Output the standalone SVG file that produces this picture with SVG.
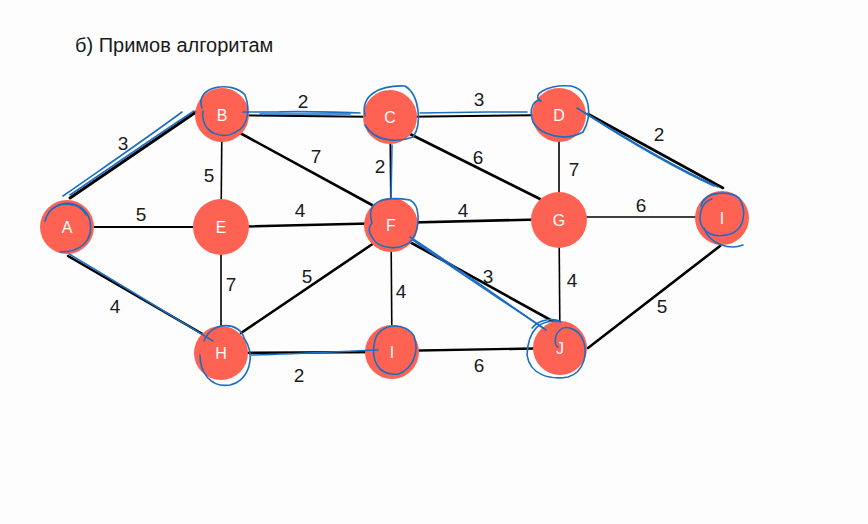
<svg xmlns="http://www.w3.org/2000/svg" width="868" height="524" viewBox="0 0 868 524">
  <style>
    .bg { fill: #fdfdfe; }
    .title { font-family: "Liberation Sans", Arial, sans-serif; font-size: 20px; fill: #1a1a1a; }
    .w { font-family: "Liberation Sans", Arial, sans-serif; font-size: 19px; fill: #1a1a1a; text-anchor: middle; }
    .edge { stroke: #000; stroke-width: 2.6; stroke-linecap: round; fill: none; }
    .thin { stroke: #000; stroke-width: 1.6; fill: none; }
    .node circle { fill: #fd6253; }
    .node text { font-family: "Liberation Sans", Arial, sans-serif; font-size: 16px; fill: #ffffff; text-anchor: middle; }
    .ink { stroke: #1b6ec2; stroke-width: 1.6; fill: none; stroke-linecap: round; stroke-linejoin: round; }
  </style>
  <rect class="bg" width="868" height="524"/>
  <text class="title" x="75" y="52">б) Примов алгоритам</text>

  <!-- edges -->
  <g id="edges">
    <line class="edge" x1="70" y1="198" x2="196" y2="112" style="stroke-width:3"/>
    <line class="thin" x1="222" y1="115" x2="390" y2="117" style="stroke-width:2"/>
    <line class="thin" x1="390" y1="117" x2="559" y2="115" style="stroke-width:2"/>
    <line class="edge" x1="588" y1="114" x2="723" y2="188"/>
    <line class="thin" x1="222" y1="115" x2="221" y2="227"/>
    <line class="edge" x1="240" y1="133" x2="372" y2="205"/>
    <line class="thin" x1="390" y1="117" x2="391" y2="225"/>
    <line class="edge" x1="410" y1="134" x2="540" y2="199"/>
    <line class="thin" x1="559" y1="115" x2="559" y2="220"/>
    <line class="thin" x1="67" y1="227" x2="221" y2="227" style="stroke-width:2"/>
    <line class="edge" x1="221" y1="227" x2="391" y2="223"/>
    <line class="edge" x1="391" y1="223" x2="559" y2="219"/>
    <line class="thin" x1="559" y1="217" x2="722" y2="217"/>
    <line class="edge" x1="68" y1="256" x2="206" y2="336"/>
    <line class="thin" x1="221" y1="227" x2="221" y2="353"/>
    <line class="edge" x1="241" y1="333" x2="374" y2="243"/>
    <line class="thin" x1="391" y1="225" x2="392" y2="352"/>
    <line class="edge" x1="408" y1="241" x2="556" y2="323"/>
    <line class="thin" x1="559" y1="220" x2="560" y2="348"/>
    <line class="edge" x1="588" y1="348" x2="720" y2="246"/>
    <line class="edge" x1="221" y1="353" x2="392" y2="352" style="stroke-width:2.4"/>
    <line class="edge" x1="392" y1="351" x2="560" y2="348" style="stroke-width:2.4"/>
  </g>

  <!-- edge weights -->
  <g id="weights">
    <text class="w" x="123" y="150">3</text>
    <text class="w" x="303" y="108">2</text>
    <text class="w" x="479" y="106">3</text>
    <text class="w" x="659" y="141">2</text>
    <text class="w" x="209" y="182">5</text>
    <text class="w" x="316" y="163">7</text>
    <text class="w" x="380" y="173">2</text>
    <text class="w" x="478" y="164">6</text>
    <text class="w" x="574" y="176">7</text>
    <text class="w" x="141" y="221">5</text>
    <text class="w" x="300" y="217">4</text>
    <text class="w" x="463" y="217">4</text>
    <text class="w" x="641" y="212">6</text>
    <text class="w" x="115" y="313">4</text>
    <text class="w" x="231" y="291">7</text>
    <text class="w" x="307" y="283">5</text>
    <text class="w" x="401" y="298">4</text>
    <text class="w" x="488" y="283">3</text>
    <text class="w" x="572" y="287">4</text>
    <text class="w" x="662" y="313">5</text>
    <text class="w" x="299" y="382">2</text>
    <text class="w" x="479" y="372">6</text>
  </g>

  <!-- nodes -->
  <g id="node-A" class="node"><circle cx="67" cy="227" r="27"/><text x="67" y="233">A</text></g>
  <g id="node-B" class="node"><circle cx="222" cy="115" r="27"/><text x="222" y="121">B</text></g>
  <g id="node-C" class="node"><circle cx="390" cy="117" r="27"/><text x="390" y="123">C</text></g>
  <g id="node-D" class="node"><circle cx="559" cy="115" r="27"/><text x="559" y="121">D</text></g>
  <g id="node-E" class="node"><circle cx="221" cy="227" r="28"/><text x="221" y="233">E</text></g>
  <g id="node-F" class="node"><circle cx="391" cy="225" r="27"/><text x="391" y="231">F</text></g>
  <g id="node-G" class="node"><circle cx="559" cy="220" r="28"/><text x="559" y="226">G</text></g>
  <g id="node-I1" class="node"><circle cx="722" cy="218" r="27"/><text x="722" y="224">I</text></g>
  <g id="node-H" class="node"><circle cx="221" cy="353" r="27"/><text x="221" y="359">H</text></g>
  <g id="node-I2" class="node"><circle cx="392" cy="352" r="27"/><text x="392" y="358">I</text></g>
  <g id="node-J" class="node"><circle cx="560" cy="348" r="27"/><text x="560" y="354">J</text></g>

  <!-- blue pen marks over the spanning tree -->
  <g id="pen">
    <!-- traced edges -->
    <path class="ink" d="M63 196 C100 170 140 143 182 112"/>
    <path class="ink" d="M70 195 C110 168 150 140 194 111"/>
    <path class="ink" d="M243 112 L278 112 C300 111 330 112 360 113"/>
    <path class="ink" d="M260 114 L350 114"/>
    <path class="ink" d="M420 113 L487 112 L527 112"/>
    <path class="ink" d="M577 108 C620 135 670 165 718 187"/>
    <path class="ink" d="M585 113 C630 142 675 168 714 186"/>
    <path class="ink" d="M392 145 L391 198"/>
    <path class="ink" d="M410 237 C450 263 500 298 543 328"/>
    <path class="ink" d="M413 240 C455 270 505 302 546 330"/>
    <path class="ink" d="M69 254 C120 284 170 315 213 341"/>
    <path class="ink" d="M251 355 C300 354 330 352 378 350"/>
    <!-- loops round the chosen nodes -->
    <path class="ink" d="M45 221 C52 196 85 199 90 221 C94 243 78 252 60 252"/>
    <path class="ink" d="M49 212 C60 200 80 202 86 215"/>
    <path class="ink" d="M202 108 C194 86 232 80 245 95 C252 113 245 128 237 131 C225 141 200 134 203 111"/>
    <path class="ink" d="M365 116 C360 95 380 85 405 86 C420 95 422 125 413 137 C400 142 375 143 365 125"/>
    <path class="ink" d="M541 101 C530 95 548 84 571 86 C590 90 593 115 583 132 C565 142 540 135 533 122 C528 108 535 98 541 101"/>
    <path class="ink" d="M701 206 C705 190 730 191 739 198 C748 212 743 228 733 233 C715 240 702 233 700 220 C700 208 705 201 712 199"/>
    <path class="ink" d="M704 228 C710 245 730 250 743 245"/>
    <path class="ink" d="M372 223 C365 200 385 196 410 200 C420 205 421 226 412 240 C400 252 378 249 372 237 C367 230 370 225 372 223"/>
    <path class="ink" d="M204 341 C212 320 240 322 244 338 C256 355 250 380 230 385 C210 388 200 372 200 355"/>
    <path class="ink" d="M375 340 C380 322 406 322 414 336 C420 352 412 370 398 374 C378 376 370 360 375 340"/>
    <path class="ink" d="M532 328 C540 318 556 318 561 322 C540 318 528 330 527 355 C530 375 550 380 568 377 C585 372 588 352 583 340 C578 328 565 325 560 330 C553 336 555 346 558 347"/>
  </g>
</svg>
